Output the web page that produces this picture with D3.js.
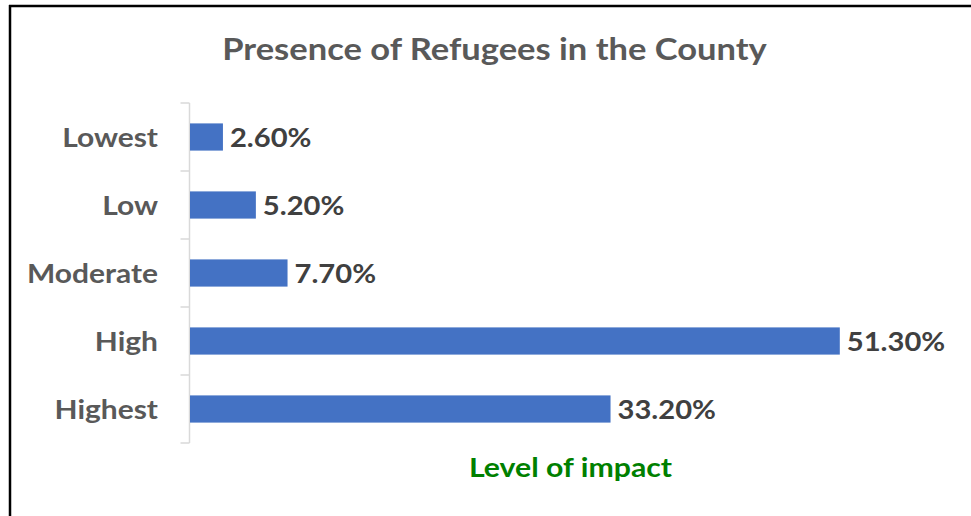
<!DOCTYPE html>
<html>
<head>
<meta charset="utf-8">
<script src="https://cdn.jsdelivr.net/npm/d3@7"></script>
<style>
  html, body { margin: 0; padding: 0; background: #fff; }
  svg { display: block; }
  text { font-family: Lato, "Open Sans", sans-serif; font-weight: bold; }
</style>
</head>
<body>
<svg id="chart" width="971" height="516"></svg>
<script>
const title = "Presence of Refugees in the County";
const axisTitle = "Level of impact";
const categories = ["Lowest", "Low", "Moderate", "High", "Highest"];
const values = [2.6, 5.2, 7.7, 51.3, 33.2];

const svg = d3.select("#chart");
const W = 971, H = 516;

// stretch text horizontally to mimic the wider Calibri glyphs of the reference
function stretch(sel, f) {
  sel.each(function () {
    const w = this.getComputedTextLength();
    d3.select(this).attr("textLength", w * f).attr("lengthAdjust", "spacingAndGlyphs");
  });
}

// outer frame (only top and left visible in the reference)
svg.append("rect").attr("x", 0).attr("y", 0).attr("width", W).attr("height", H).attr("fill", "#fff");
svg.append("line").attr("x1", 10).attr("x2", 10).attr("y1", 5).attr("y2", H).attr("stroke", "#000").attr("stroke-width", 2.5);
svg.append("line").attr("x1", 9).attr("x2", W).attr("y1", 6).attr("y2", 6).attr("stroke", "#000").attr("stroke-width", 2.5);

const y = d3.scaleBand().domain(categories).range([103, 443]).paddingInner(0.6).paddingOuter(0.3);
const x = d3.scaleLinear().domain([0, 60]).range([190, 950]);

// title
svg.append("text").attr("x", 494.5).attr("y", 59.5).attr("text-anchor", "middle")
  .attr("fill", "#595959").attr("font-size", 30).text(title).call(stretch, 1.15);

// axis line + ticks at category boundaries
const step = y.step();
const bounds = categories.map(c => y(c) - y.paddingInner() * step / 2);
bounds.push(y.range()[1]);
const axisX = x(0) - 0.5;
svg.append("line").attr("x1", axisX).attr("x2", axisX).attr("y1", y.range()[0]).attr("y2", y.range()[1])
  .attr("stroke", "#d9d9d9").attr("stroke-width", 1.5);
svg.selectAll(".tk").data(bounds).join("line").attr("class", "tk")
  .attr("x1", axisX - 9).attr("x2", axisX).attr("y1", d => d).attr("y2", d => d)
  .attr("stroke", "#d9d9d9").attr("stroke-width", 1.5);

// category labels
svg.selectAll(".cat").data(categories).join("text").attr("class", "cat")
  .attr("x", 158).attr("y", d => y(d) + y.bandwidth() / 2).attr("dy", "0.36em")
  .attr("text-anchor", "end").attr("fill", "#595959").attr("font-size", 26.5).text(d => d)
  .call(stretch, 1.13);

// bars
const data = categories.map((c, i) => ({ c, v: values[i] }));
svg.selectAll(".bar").data(data).join("rect").attr("class", "bar")
  .attr("x", x(0)).attr("y", d => y(d.c)).attr("width", d => x(d.v) - x(0)).attr("height", y.bandwidth())
  .attr("fill", "#4472C4");

// value labels
svg.selectAll(".val").data(data).join("text").attr("class", "val")
  .attr("x", d => x(d.v) + 7).attr("y", d => y(d.c) + y.bandwidth() / 2).attr("dy", "0.36em")
  .attr("fill", "#404040").attr("font-size", 27.5).text(d => d.v.toFixed(2) + "%")
  .call(stretch, 1.06);

// axis title
svg.append("text").attr("x", 570.5).attr("y", 476.5).attr("text-anchor", "middle")
  .attr("fill", "#008000").attr("font-size", 27.5).text(axisTitle).call(stretch, 1.1);
</script>
</body>
</html>
